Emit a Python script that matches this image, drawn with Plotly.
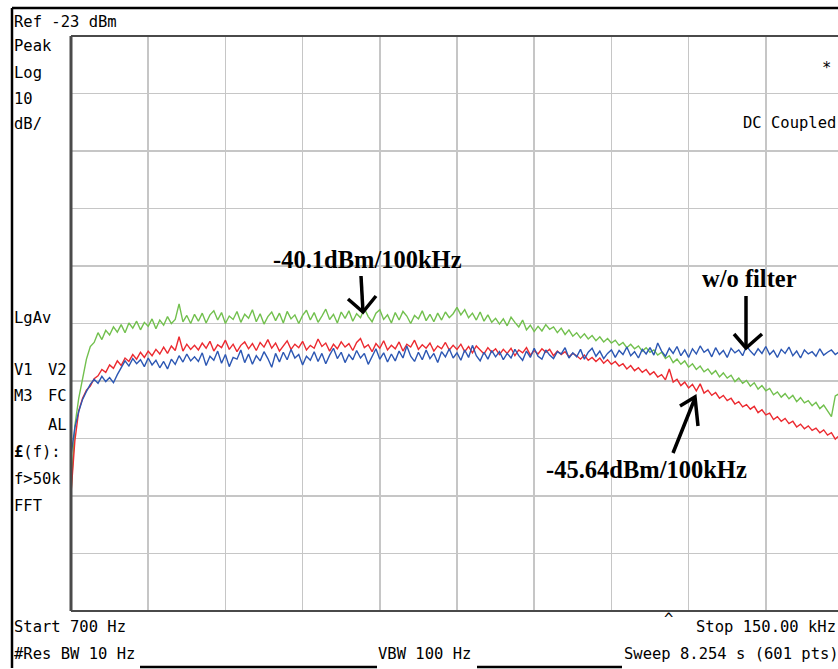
import numpy as np
import plotly.graph_objects as go

start_hz = 700
stop_hz = 150000
n_pts = 201
ref_dbm = -23
db_per_div = 10

green_dbm = [
    -102.6, -90.8, -86.0, -82.6, -79.2, -77.0, -76.3, -74.6, -75.8, -74.2,
    -75.0, -73.6, -74.5, -73.2, -74.6, -72.9, -73.8, -72.6, -74.1, -72.8,
    -73.5, -72.2, -73.9, -72.4, -73.3, -71.8, -73.0, -72.3, -69.6, -72.7,
    -71.6, -73.0, -71.4,
    -72.6, -71.2, -72.9, -71.5, -70.8, -72.4, -71.1, -73.0, -71.7, -72.3,
    -70.9, -72.8, -71.4, -72.1, -70.6, -72.7, -71.3, -73.1, -71.8, -71.0,
    -72.5, -71.2, -72.9, -70.9, -72.2, -71.5, -73.0, -71.6, -70.7, -72.4,
    -71.1, -72.8, -71.7, -70.5, -72.3, -71.4, -72.9, -71.0, -72.1, -70.8,
    -72.6, -71.3, -72.0, -70.4, -71.8, -72.7, -71.2, -70.6, -72.3, -71.5,
    -72.9, -71.1, -72.4, -70.9, -71.7, -73.0, -71.6, -72.2, -70.8, -72.5,
    -71.4, -72.7, -71.2, -72.4, -71.0, -72.0, -71.3,
    -70.2, -71.5, -70.6, -72.0, -71.2, -72.4, -71.0, -72.6, -71.5, -72.8, -72.1,
    -73.1, -72.2, -73.4, -71.9, -72.8, -73.6, -72.4, -74.1, -73.3, -74.4,
    -73.5, -74.3, -73.2, -74.0, -73.6, -74.6, -73.8, -74.9, -74.1, -75.2,
    -74.6, -75.5, -74.8, -75.7, -75.1, -76.0, -75.3, -76.2, -75.6, -76.4,
    -75.9, -76.8, -76.3, -77.2, -76.6, -77.4, -76.9, -77.8, -77.2, -78.0,
    -77.6, -78.5, -78.0, -79.1, -78.6, -79.8, -79.2, -80.1, -79.5, -80.6,
    -80.0, -81.0, -80.4, -81.4, -80.9, -81.8, -81.2, -82.3, -81.6, -82.5,
    -82.0, -83.1, -82.5, -83.4, -82.9, -83.9, -83.3, -84.4, -83.8, -84.7,
    -84.3, -85.4, -84.9, -85.8, -85.2, -86.1, -85.5, -86.6, -85.9, -86.8,
    -86.4, -87.3, -86.7, -87.8, -87.2, -88.3, -89.2, -85.6, -85.2, -85.4,
]

red_dbm = [
    -102.6, -93.4, -88.2, -86.0, -84.6, -83.9, -82.6, -82.1, -81.0, -81.5,
    -80.2, -80.8, -79.5, -80.3, -79.0, -79.6, -78.4, -79.2, -78.0, -78.9,
    -77.8, -78.6, -77.5, -78.3, -77.1, -78.2, -76.9, -77.7, -75.3, -77.8,
    -76.6, -77.5, -76.8,
    -77.6, -76.4, -77.3, -76.1, -77.8, -76.7, -77.2, -75.9, -77.5, -76.6,
    -77.9, -76.8, -76.2, -77.4, -76.5, -77.7, -76.3, -77.1, -75.8, -77.3,
    -76.4, -77.8, -76.9, -76.0, -77.5, -76.6, -77.2, -76.1, -77.6, -76.8,
    -77.3, -75.7, -77.0, -76.4, -77.8, -76.6, -77.4, -76.2, -77.1, -76.5,
    -77.7, -76.3, -75.6, -77.2, -76.7, -77.9, -76.5, -77.3, -76.0, -77.6,
    -76.8, -77.4, -76.2, -77.8, -76.6, -77.1, -75.9, -77.5, -76.7, -77.3,
    -76.4, -77.8, -76.9, -77.4, -76.3, -77.6, -76.8,
    -77.5, -76.6, -77.9, -77.0, -78.1, -76.9, -77.6, -78.3, -77.2, -78.0, -77.4,
    -78.4, -77.5, -78.2, -77.3, -78.6, -77.6, -78.1, -77.2, -78.5, -77.7,
    -78.3, -77.4, -78.0, -77.5, -78.6, -77.8, -78.4, -77.9, -78.8, -78.2,
    -78.6, -79.2, -78.5, -79.4, -78.9, -79.6, -79.0, -79.9, -79.3, -80.1,
    -79.6, -80.4, -80.0, -80.9, -80.3, -81.2, -80.7, -81.5, -81.0, -81.9,
    -81.4, -82.3, -81.9, -82.8, -80.9, -83.2, -82.7, -83.8, -83.2, -84.2,
    -83.6, -84.7, -83.5, -85.1, -84.6, -85.5, -85.0, -86.0, -85.5, -86.4,
    -86.0, -87.0, -86.6, -87.5, -87.1, -87.9, -87.4, -88.5, -88.0, -88.9,
    -88.6, -89.7, -89.2, -90.0, -89.5, -90.4, -90.0, -91.0, -90.5, -91.3,
    -90.8, -91.6, -91.2, -92.0, -91.5, -92.4, -92.0, -93.1, -92.5, -93.2,
]

blue_dbm = [
    -96.0, -91.1, -88.3, -86.2, -84.8, -83.6, -82.7, -83.4, -82.2, -83.1,
    -82.4, -83.3, -81.9, -80.6, -79.5, -80.4, -79.1, -80.0, -79.3, -80.5,
    -79.0, -80.2, -79.4, -80.7, -79.6, -80.9, -79.2, -80.1, -78.6, -79.7,
    -78.3, -79.5, -78.8,
    -79.6, -78.1, -80.3, -78.7, -79.4, -77.8, -79.9, -78.4, -80.5, -78.9,
    -79.2, -77.6, -79.8, -78.3, -80.1, -78.6, -79.5, -77.9, -79.1, -80.6,
    -78.2, -79.7, -78.0, -79.3, -77.5, -79.0, -78.4, -80.2, -78.7, -79.4,
    -77.9, -79.6, -78.2, -80.0, -78.5, -77.3, -79.1, -78.0, -79.8, -78.4,
    -79.3, -77.7, -79.0, -78.2, -80.1, -78.6, -77.4, -79.2, -78.1, -79.7,
    -78.3, -79.5, -77.8, -79.0, -76.9, -78.7, -79.6, -78.0, -79.3, -77.6,
    -79.1, -78.2, -79.8, -77.9, -78.8, -77.4, -79.0,
    -78.1, -79.4, -77.6, -78.9, -76.8, -78.6, -79.5, -78.0, -79.2, -77.7, -78.8,
    -77.9, -79.3, -78.2, -79.0, -77.5, -78.6, -79.4, -77.8, -78.9, -77.3,
    -78.7, -79.2, -77.6, -78.5, -79.1, -77.9, -78.3, -77.2, -79.0, -78.1,
    -78.8, -77.5, -79.2, -78.0, -77.3, -78.7, -77.8, -79.1, -78.2, -77.6,
    -78.9, -77.7, -78.4, -77.1, -78.6, -77.9, -79.0, -77.5, -78.3, -77.2,
    -78.5, -76.4, -77.8, -78.7, -77.3, -78.2, -77.0, -78.6, -77.6, -78.9,
    -77.4, -78.3, -76.9, -78.0, -77.5, -78.8, -77.2, -78.4, -77.7, -78.9,
    -77.3, -78.1, -77.6, -78.6, -76.9, -77.8, -78.5, -77.4, -78.2, -77.0,
    -78.4, -77.7, -78.9, -77.5, -78.2, -77.1, -78.6, -77.8, -79.0, -77.6,
    -78.3, -77.9, -78.7, -77.4, -78.5, -78.0, -77.6, -78.4, -77.9, -78.2,
]

freq_hz = np.linspace(start_hz, stop_hz, n_pts)

# ---------------- layout geometry (page pixel coordinates) ----------------
W, H = 838, 669
L, R, T, B = 71, 838, 36, 611            # plot area in page pixels
DIV_PX = 77.2                            # one horizontal division in px
hz_per_div = (stop_hz - start_hz) / 10
x_end = start_hz + (R - L) / DIV_PX * hz_per_div


def px(x):
    return (x - L) / (R - L)


def py(y):
    return (B - y) / (B - T)


fig = go.Figure()
for vals, col in [(green_dbm, "#72c04e"), (red_dbm, "#ec2a30"), (blue_dbm, "#2c57b3")]:
    fig.add_trace(go.Scatter(x=freq_hz, y=vals, mode="lines",
                             line=dict(color=col, width=1.4),
                             hoverinfo="skip", showlegend=False))

annotations = []


def label(text, x, y, size=15.5, family="DejaVu Sans Mono", anchor="left"):
    annotations.append(dict(text=text, x=px(x), y=py(y), xref="paper", yref="paper",
                            xanchor=anchor, yanchor="middle", showarrow=False,
                            font=dict(family=family, size=size, color="black")))


# instrument texts
label("Ref -23 dBm", 12, 22)
label("Peak", 12, 46)
label("Log", 12, 73)
label("10", 12, 99)
label("dB/", 12, 124)
label("LgAv", 12, 318)
label("V1", 12, 370)
label("V2", 46, 370)
label("M3", 12, 396)
label("FC", 46, 396)
label("AL", 46, 425)
label("<b>£</b>(f):", 12, 452)
label("f>50k", 12, 479)
label("FFT", 12, 506)
label("*", 826, 68, anchor="center")
label("DC Coupled", 741, 123)
label("Start 700 Hz", 12, 627)
label("#Res BW 10 Hz", 12, 654)
label("VBW 100 Hz", 376, 654)
label("^", 668, 619, anchor="center")
label("Stop 150.00 kHz", 694, 627)
label("Sweep 8.254 s (601 pts)", 622, 654)

# hand-written style annotations
serif = "Liberation Serif"
label("<b>-40.1dBm/100kHz</b>", 367, 259, size=24.5, family=serif, anchor="center")
label("<b>w/o filter</b>", 749, 278, size=24.5, family=serif, anchor="center")
label("<b>-45.64dBm/100kHz</b>", 646, 469, size=24.5, family=serif, anchor="center")


def path(points):
    return " ".join(("M" if i == 0 else "L") + f" {px(a):.5f},{py(b):.5f}"
                    for i, (a, b) in enumerate(points))


shapes = []
arrow_style = dict(type="path", xref="paper", yref="paper",
                   line=dict(color="black", width=3.5))
for pts in [
    [(361, 276), (363, 312)], [(348, 299), (363, 312), (376, 296)],
    [(746, 296), (746, 348)], [(734, 334), (746, 348), (762, 334)],
    [(673, 453), (695, 398)], [(680, 406), (695, 397), (698, 426)],
]:
    shapes.append(dict(arrow_style, path=path(pts)))

# frames
frame = dict(type="line", xref="paper", yref="paper", line=dict(color="black", width=2.5))
shapes.append(dict(frame, x0=px(12), x1=px(12), y0=py(8), y1=py(668)))
shapes.append(dict(frame, x0=px(12), x1=px(840), y0=py(8), y1=py(8)))
shapes.append(dict(frame, x0=px(140), x1=px(377), y0=py(667), y1=py(667)))
shapes.append(dict(frame, x0=px(477), x1=px(622), y0=py(667), y1=py(667)))
inner = dict(type="line", xref="paper", yref="paper", line=dict(color="#4a4a4a", width=3))
shapes.append(dict(inner, x0=0, x1=0, y0=0, y1=1))
shapes.append(dict(inner, x0=0, x1=1.01, y0=1, y1=1, line=dict(color="#4a4a4a", width=2.2)))
shapes.append(dict(inner, x0=0, x1=1.01, y0=0, y1=0, line=dict(color="#4a4a4a", width=2.2)))

fig.update_layout(
    width=W, height=H,
    margin=dict(l=L, r=W - R, t=T, b=H - B, pad=0),
    paper_bgcolor="white", plot_bgcolor="white",
    annotations=annotations, shapes=shapes,
    xaxis=dict(range=[start_hz, x_end], tick0=start_hz, dtick=hz_per_div,
               showgrid=True, gridcolor="#c6c6c6", gridwidth=1.6,
               showticklabels=False, ticks="", zeroline=False, showline=False),
    yaxis=dict(range=[ref_dbm - 10 * db_per_div, ref_dbm], tick0=ref_dbm, dtick=db_per_div,
               showgrid=True, gridcolor="#c6c6c6", gridwidth=1.6,
               showticklabels=False, ticks="", zeroline=False, showline=False),
    hovermode=False,
)

# remove the default page margin so the figure fills the window exactly
fig.write_html(
    "out.html",
    config={"displayModeBar": False, "staticPlot": True},
    post_script="document.body.style.margin='0';document.body.style.overflow='hidden';",
)
